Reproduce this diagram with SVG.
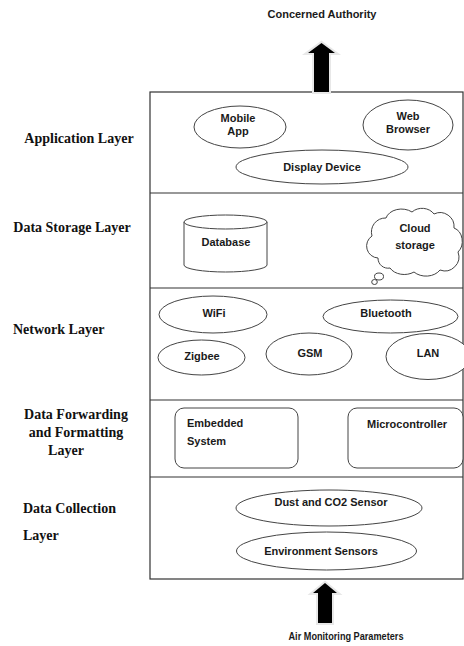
<svg xmlns="http://www.w3.org/2000/svg" width="464" height="646" viewBox="0 0 464 646">
<style>
.lbl{font-family:"Liberation Serif","Times New Roman",serif;font-weight:bold;font-size:14px;fill:#111}
.t{font-family:"Liberation Sans",Arial,sans-serif;font-weight:bold;font-size:11px;fill:#1a1a1a}
.s{fill:#fff;stroke:#444;stroke-width:1}
.ln{stroke:#333;stroke-width:1.2;fill:none}
.arrow{fill:#000;stroke:#e8e8e8;stroke-width:4;paint-order:stroke}
</style>
<rect width="464" height="646" fill="#fff"/>
<g id="frame">
<rect x="150" y="92" width="313" height="487" class="ln"/>
<line x1="150" y1="193" x2="463" y2="193" class="ln"/>
<line x1="150" y1="288" x2="463" y2="288" class="ln"/>
<line x1="150" y1="400" x2="463" y2="400" class="ln"/>
<line x1="150" y1="477" x2="463" y2="477" class="ln"/>
</g>
<g id="layer-labels">
<text class="lbl" x="79" y="143" text-anchor="middle">Application Layer</text>
<text class="lbl" x="72" y="232" text-anchor="middle">Data Storage Layer</text>
<text class="lbl" x="13" y="334">Network Layer</text>
<text class="lbl" x="76" y="419" text-anchor="middle">Data Forwarding</text>
<text class="lbl" x="76" y="437" text-anchor="middle">and Formatting</text>
<text class="lbl" x="66" y="455" text-anchor="middle">Layer</text>
<text class="lbl" x="23" y="513">Data Collection</text>
<text class="lbl" x="23" y="540">Layer</text>
</g>
<g id="connectors">
<polygon class="arrow" points="321.5,43 335,53 329,53 329,92 314,92 314,53 308,53"/>
<polygon class="arrow" points="325,583 337,593 332,593 332,623 318,623 318,593 313,593"/>
</g>
<g id="concerned-authority"><text class="t" x="322" y="18" text-anchor="middle" font-size="11.6">Concerned Authority</text></g>
<g id="air-monitoring"><text class="t" x="346" y="640" text-anchor="middle" font-size="10.5" textLength="115" lengthAdjust="spacingAndGlyphs">Air Monitoring Parameters</text></g>
<g id="mobile-app">
<ellipse class="s" cx="240" cy="127" rx="46" ry="21"/>
<text class="t" x="238" y="122" text-anchor="middle">Mobile</text>
<text class="t" x="238" y="135" text-anchor="middle">App</text>
</g>
<g id="web-browser">
<ellipse class="s" cx="408" cy="125" rx="45" ry="25"/>
<text class="t" x="408" y="120" text-anchor="middle" font-size="9">Web</text>
<text class="t" x="408" y="133" text-anchor="middle" font-size="9">Browser</text>
</g>
<g id="display-device">
<ellipse class="s" cx="322" cy="167" rx="86" ry="17"/>
<text class="t" x="322" y="171" text-anchor="middle">Display Device</text>
</g>
<g id="database">
<path class="s" d="M184,222 V265 A41.5,7 0 0 0 267,265 V222"/>
<ellipse class="s" cx="225.5" cy="222" rx="41.5" ry="7"/>
<text class="t" x="226" y="246" text-anchor="middle">Database</text>
</g>
<g id="cloud-storage">
<path class="s" d="M378,258 A12,12 0 0 1 372,236 A14,14 0 0 1 386,218 A16,12 0 0 1 412,212 A14,12 0 0 1 434,214 A14,14 0 0 1 454,228 A12,14 0 0 1 458,252 A14,14 0 0 1 440,270 A16,12 0 0 1 414,272 A16,12 0 0 1 390,268 A10,10 0 0 1 378,258 Z"/>
<ellipse class="s" cx="379" cy="276.5" rx="4.5" ry="3.5"/>
<ellipse class="s" cx="374.5" cy="282" rx="2.8" ry="2.5"/>
<text class="t" x="415" y="232" text-anchor="middle">Cloud</text>
<text class="t" x="415" y="249" text-anchor="middle">storage</text>
</g>
<g id="wifi">
<ellipse class="s" cx="213" cy="314.5" rx="54" ry="18.5"/>
<text class="t" x="214" y="317" text-anchor="middle">WiFi</text>
</g>
<g id="bluetooth">
<ellipse class="s" cx="390.5" cy="316.5" rx="67.5" ry="16.5"/>
<text class="t" x="386" y="317" text-anchor="middle">Bluetooth</text>
</g>
<g id="zigbee">
<ellipse class="s" cx="201.5" cy="357.5" rx="43.5" ry="17.5"/>
<text class="t" x="202" y="360" text-anchor="middle">Zigbee</text>
</g>
<g id="gsm">
<ellipse class="s" cx="309" cy="354" rx="43" ry="21"/>
<text class="t" x="310" y="357" text-anchor="middle">GSM</text>
</g>
<g id="lan">
<ellipse class="s" cx="428" cy="356.5" rx="42" ry="23"/>
<text class="t" x="428" y="357" text-anchor="middle">LAN</text>
</g>
<g id="embedded-system">
<rect class="s" x="175" y="408" width="123" height="60" rx="9"/>
<text class="t" x="187" y="427">Embedded</text>
<text class="t" x="187" y="445">System</text>
</g>
<g id="microcontroller">
<rect class="s" x="348" y="408" width="115" height="60" rx="9"/>
<text class="t" x="367" y="428">Microcontroller</text>
</g>
<g id="dust-co2-sensor">
<ellipse class="s" cx="329" cy="508" rx="93" ry="18"/>
<text class="t" x="331" y="506" text-anchor="middle" font-size="11.5">Dust and CO2 Sensor</text>
</g>
<g id="environment-sensors">
<ellipse class="s" cx="326.5" cy="551" rx="90" ry="19"/>
<text class="t" x="321" y="555" text-anchor="middle" font-size="10">Environment Sensors</text>
</g>
</svg>
